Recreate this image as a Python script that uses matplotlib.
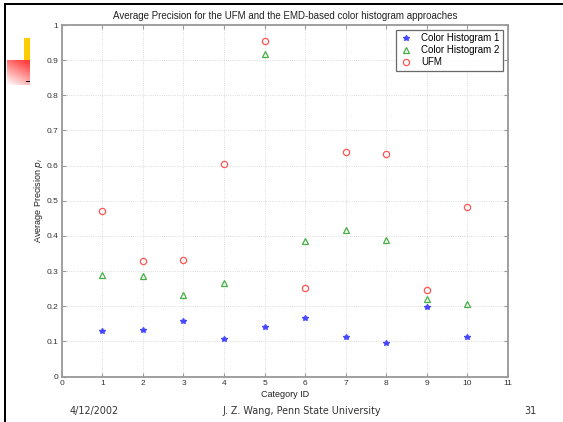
import matplotlib
matplotlib.use('Agg')
import matplotlib.pyplot as plt
import numpy as np
from matplotlib.patches import Rectangle

categories = [1, 2, 3, 4, 5, 6, 7, 8, 9, 10]
hist1 = [0.130, 0.132, 0.158, 0.106, 0.141, 0.167, 0.111, 0.094, 0.197, 0.112]
hist2 = [0.288, 0.286, 0.233, 0.267, 0.917, 0.385, 0.416, 0.388, 0.220, 0.206]
ufm = [0.471, 0.328, 0.331, 0.604, 0.954, 0.253, 0.638, 0.632, 0.245, 0.483]
series_names = ['Color Histogram 1', 'Color Histogram 2', 'UFM']
xticks = list(range(0, 12))
yticks = [0, 0.1, 0.2, 0.3, 0.4, 0.5, 0.6, 0.7, 0.8, 0.9, 1]
ytick_labels = ['0', '0.1', '0.2', '0.3', '0.4', '0.5', '0.6', '0.7', '0.8', '0.9', '1']

W, H = 563, 422
fig = plt.figure(figsize=(W / 100, H / 100), dpi=100)
fig.patch.set_facecolor('white')

ax = fig.add_axes([61.8 / W, 1 - 376.5 / H, (508 - 61.8) / W, (376.5 - 25) / H])
ax.plot(categories, hist1, linestyle='none', marker='*', ms=4.2, color='#4848ff',
        label=series_names[0])
ax.plot(categories, hist2, linestyle='none', marker='^', ms=4.5, mfc='none', mew=0.9,
        color='#44b044', label=series_names[1])
ax.plot(categories, ufm, linestyle='none', marker='o', ms=4.5, mfc='none', mew=0.9,
        color='#ff5555', label=series_names[2])

ax.set_xlim(0, 11)
ax.set_ylim(0, 1)
ax.set_xticks(xticks)
ax.set_yticks(yticks)
ax.set_yticklabels(ytick_labels)
ax.tick_params(direction='in', top=True, right=True, length=3, width=0.8,
               labelsize=6, color='#999999', labelcolor='#333333', pad=2.5)
ax.grid(True, linestyle=':', color='#d0d0d0', lw=0.6)
for s in ax.spines.values():
    s.set_color('#999999')
    s.set_linewidth(1.3)

fam = ['Liberation Sans', 'DejaVu Sans']
ax.set_title('Average Precision for the UFM and the EMD-based color histogram approaches',
             fontsize=7, family=fam, pad=4, color='#222222')
ax.set_xlabel('Category ID', fontsize=6.5, family=fam, labelpad=2, color='#222222')
ax.set_ylabel(r'Average Precision $p_i$', fontsize=6.5, family=fam, labelpad=1, color='#222222')
for lbl in ax.get_xticklabels() + ax.get_yticklabels():
    lbl.set_family(fam)

leg = ax.legend(loc='upper right', prop={'family': fam, 'size': 7},
                frameon=True, fancybox=False, edgecolor='#444444', borderpad=0.35,
                labelspacing=0.2, handlelength=1.5, handletextpad=0.8,
                borderaxespad=0.5)
leg.get_frame().set_linewidth(0.9)

# slide decorations
fig.add_artist(Rectangle((4.3 / W, 0), 2 / W, 1 - 3.3 / H, transform=fig.transFigure,
                         color='black', lw=0))
fig.add_artist(Rectangle((4.3 / W, 1 - 5.3 / H), 1 - 4.3 / W, 2 / H, transform=fig.transFigure,
                         color='black', lw=0))
fig.add_artist(Rectangle((24 / W, 1 - 60 / H), 5.7 / W, 22.3 / H, transform=fig.transFigure,
                         color='#ffcc00', lw=0))
gx = np.linspace(0, 1, 40)
gy = np.linspace(1, 0, 40)
GX, GY = np.meshgrid(gx, gy)
a = np.clip(0.35 * GX + 0.75 * GY, 0, 1)
img = np.ones((40, 40, 3))
img[..., 1] = 1 - a * 0.75
img[..., 2] = 1 - a * 0.75
gax = fig.add_axes([6.7 / W, 1 - 85 / H, 23 / W, 25 / H])
gax.imshow(img, aspect='auto', interpolation='bilinear')
gax.axis('off')
fig.add_artist(Rectangle((26 / W, 1 - 82 / H), 4 / W, 1.5 / H, transform=fig.transFigure,
                         color='black', lw=0))

ffam = ['DejaVu Sans']
fig.text(94 / W, 1 - 411 / H, '4/12/2002', ha='center', va='center', fontsize=6.9,
         family=ffam, color='#333333')
fig.text(302 / W, 1 - 411 / H, 'J. Z. Wang, Penn State University', ha='center', va='center',
         fontsize=6.9, family=ffam, color='#333333')
fig.text(530 / W, 1 - 411 / H, '31', ha='center', va='center', fontsize=6.9,
         family=ffam, color='#333333')

fig.savefig('out.png', dpi=100)
